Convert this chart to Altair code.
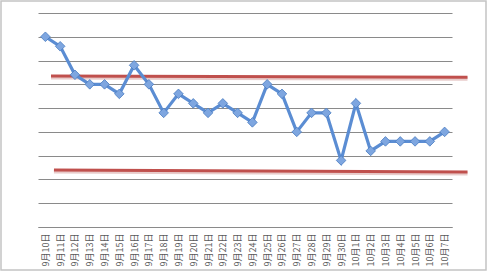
import altair as alt
import pandas as pd

dates = ["9月10日", "9月11日", "9月12日", "9月13日", "9月14日", "9月15日", "9月16日",
         "9月17日", "9月18日", "9月19日", "9月20日", "9月21日", "9月22日", "9月23日",
         "9月24日", "9月25日", "9月26日", "9月27日", "9月28日", "9月29日", "9月30日",
         "10月1日", "10月2日", "10月3日", "10月4日", "10月5日", "10月6日", "10月7日"]
values = [8.0, 7.6, 6.4, 6.0, 6.0, 5.6, 6.8, 6.0, 4.8, 5.6, 5.2, 4.8, 5.2, 4.8,
          4.4, 6.0, 5.6, 4.0, 4.8, 4.8, 2.8, 5.2, 3.2, 3.6, 3.6, 3.6, 3.6, 4.0]

upper_x = [0.38, 28.55]
upper_y = [6.35, 6.30]
lower_x = [0.58, 28.55]
lower_y = [2.40, 2.31]

df = pd.DataFrame({"i": list(range(len(dates))), "date": dates, "v": values})
lim = pd.DataFrame({
    "x": upper_x + lower_x,
    "y": upper_y + lower_y,
    "g": ["upper", "upper", "lower", "lower"],
})

label_arr = "[" + ",".join("'" + d + "'" for d in dates) + "]"

xscale = alt.Scale(domain=[-0.5, len(dates) - 0.5], nice=False, zero=False)
yscale = alt.Scale(domain=[0, 9], nice=False)

x_axis = alt.Axis(
    values=list(range(len(dates))),
    labelExpr=label_arr + "[datum.value]",
    labelAngle=-90,
    labelFontSize=9,
    labelColor="#595959",
    labelFont="Noto Sans CJK SC",
    labelPadding=6,
    ticks=False,
    grid=False,
    domainColor="#8a8a8a",
    domainWidth=1,
    title=None,
    labelOverlap=False,
    labelBound=False,
)
y_axis = alt.Axis(
    values=list(range(10)),
    labels=False,
    ticks=False,
    domain=False,
    grid=True,
    gridColor="#8a8a8a",
    gridWidth=1,
    title=None,
)

def X(field):
    return alt.X(field, scale=xscale, axis=x_axis)

def Y(field):
    return alt.Y(field, scale=yscale, axis=y_axis)

base_line = alt.Chart(df).mark_line(color="#5B8DD3", strokeWidth=3.2).encode(
    x=X("i:Q"), y=Y("v:Q"),
)
points = alt.Chart(df).mark_point(
    shape="diamond", filled=True, size=92, color="#7EA6E0",
    stroke="#4A7CC0", strokeWidth=0.8, opacity=1,
).encode(x=X("i:Q"), y=Y("v:Q"))

shadow = alt.Chart(lim).mark_line(color="#d9a9a7", strokeWidth=4, clip=False, opacity=0.6).encode(
    x=X("x:Q"), y=Y("y:Q"), detail="g:N",
    yOffset=alt.value(1.5),
)
limits = alt.Chart(lim).mark_line(color="#C0504D", strokeWidth=3, clip=False).encode(
    x=X("x:Q"), y=Y("y:Q"), detail="g:N",
)

frame_df = pd.DataFrame({"a": [0]})
frame = alt.Chart(frame_df).mark_rect(
    fill=None, stroke="#c4c4c4", strokeWidth=1.5, clip=False
).encode(
    x=alt.value(-37), x2=alt.value(448), y=alt.value(-12), y2=alt.value(43 + 214),
)

chart = alt.layer(shadow, limits, base_line, points, frame).properties(
    width=414, height=214,
    autosize=alt.AutoSizeParams(type="none"),
    padding={"left": 38, "top": 13, "right": 35, "bottom": 45},
    background="white",
).configure_view(stroke=None)

chart.save("out.html", embed_options={"renderer": "svg", "actions": False})
